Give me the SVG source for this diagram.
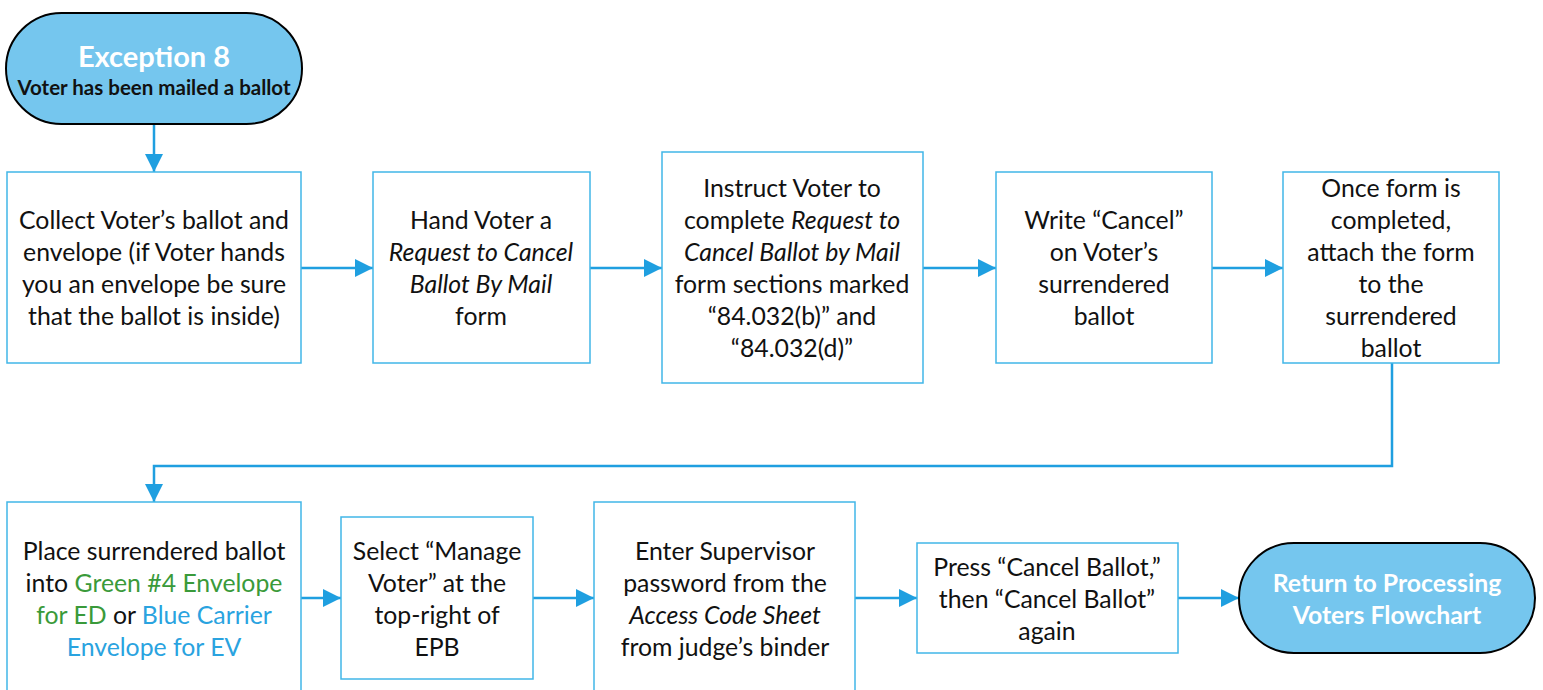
<svg xmlns="http://www.w3.org/2000/svg" width="1543" height="690" viewBox="0 0 1543 690">
<defs>
<marker id="arr" markerUnits="userSpaceOnUse" markerWidth="18" markerHeight="18" refX="18" refY="9" orient="auto">
<path d="M0,0 L18,9 L0,18 Z" fill="#1F9FE0"/>
</marker>
<style>
.box{fill:#fff;stroke:#41B6E8;stroke-width:1.5}
.term{fill:#75C6EE;stroke:#000;stroke-width:2}
.conn{fill:none;stroke:#1F9FE0;stroke-width:2.5}
text{font-family:Lato,"Open Sans","Liberation Sans",sans-serif;font-size:24.8px;fill:#111;text-anchor:middle;dominant-baseline:central}
.it{font-style:italic}
.tw{fill:#fff;font-weight:bold}
.green{fill:#3A9A3A}
.blue{fill:#2AA3DF}
</style>
</defs>
<rect width="1543" height="690" fill="#fff"/>

<g id="connectors">
<line class="conn" x1="154" y1="124" x2="154" y2="172" marker-end="url(#arr)"/>
<line class="conn" x1="301" y1="268" x2="373" y2="268" marker-end="url(#arr)"/>
<line class="conn" x1="590" y1="268" x2="662" y2="268" marker-end="url(#arr)"/>
<line class="conn" x1="923" y1="268" x2="996" y2="268" marker-end="url(#arr)"/>
<line class="conn" x1="1212" y1="268" x2="1283" y2="268" marker-end="url(#arr)"/>
<polyline class="conn" points="1392,363 1392,466 154,466 154,502" marker-end="url(#arr)"/>
<line class="conn" x1="301" y1="598" x2="341" y2="598" marker-end="url(#arr)"/>
<line class="conn" x1="533" y1="598" x2="594" y2="598" marker-end="url(#arr)"/>
<line class="conn" x1="855" y1="598" x2="917" y2="598" marker-end="url(#arr)"/>
<line class="conn" x1="1178" y1="598" x2="1239" y2="598" marker-end="url(#arr)"/>
</g>

<g id="start">
<rect class="term" x="6" y="13" width="296" height="111" rx="55.5"/>
<text x="154" y="55" class="tw" style="font-size:29px">Exception 8</text>
<text x="154" y="87" style="font-size:20.5px;font-weight:bold">Voter has been mailed a ballot</text>
</g>

<g id="collect">
<rect class="box" x="7" y="172" width="294" height="191"/>
<text x="154" y="219">Collect Voter’s ballot and</text>
<text x="154" y="251">envelope (if Voter hands</text>
<text x="154" y="283">you an envelope be sure</text>
<text x="154" y="315">that the ballot is inside)</text>
</g>

<g id="hand">
<rect class="box" x="373" y="172" width="217" height="191"/>
<text x="481" y="219">Hand Voter a</text>
<text x="481" y="251" class="it">Request to Cancel</text>
<text x="481" y="283" class="it">Ballot By Mail</text>
<text x="481" y="315">form</text>
</g>

<g id="instruct">
<rect class="box" x="662" y="152" width="261" height="231"/>
<text x="792" y="187">Instruct Voter to</text>
<text x="792" y="219">complete <tspan class="it">Request to</tspan></text>
<text x="792" y="251" class="it">Cancel Ballot by Mail</text>
<text x="792" y="283">form sections marked</text>
<text x="792" y="315">“84.032(b)” and</text>
<text x="792" y="347">“84.032(d)”</text>
</g>

<g id="write">
<rect class="box" x="996" y="172" width="216" height="191"/>
<text x="1104" y="219">Write “Cancel”</text>
<text x="1104" y="251">on Voter’s</text>
<text x="1104" y="283">surrendered</text>
<text x="1104" y="315">ballot</text>
</g>

<g id="attach">
<rect class="box" x="1283" y="172" width="216" height="191"/>
<text x="1391" y="187">Once form is</text>
<text x="1391" y="219">completed,</text>
<text x="1391" y="251">attach the form</text>
<text x="1391" y="283">to the</text>
<text x="1391" y="315">surrendered</text>
<text x="1391" y="347">ballot</text>
</g>

<g id="place">
<rect class="box" x="7" y="502" width="294" height="192"/>
<text x="154" y="550">Place surrendered ballot</text>
<text x="154" y="582">into <tspan class="green">Green #4 Envelope</tspan></text>
<text x="154" y="614"><tspan class="green">for ED</tspan> or <tspan class="blue">Blue Carrier</tspan></text>
<text x="154" y="646" class="blue">Envelope for EV</text>
</g>

<g id="select">
<rect class="box" x="341" y="517" width="192" height="162"/>
<text x="437" y="550">Select “Manage</text>
<text x="437" y="582">Voter” at the</text>
<text x="437" y="614">top-right of</text>
<text x="437" y="646">EPB</text>
</g>

<g id="enter">
<rect class="box" x="594" y="502" width="261" height="192"/>
<text x="725" y="550">Enter Supervisor</text>
<text x="725" y="582">password from the</text>
<text x="725" y="614" class="it">Access Code Sheet</text>
<text x="725" y="646">from judge’s binder</text>
</g>

<g id="press">
<rect class="box" x="917" y="543" width="261" height="110"/>
<text x="1047" y="566">Press “Cancel Ballot,”</text>
<text x="1047" y="598">then “Cancel Ballot”</text>
<text x="1047" y="630">again</text>
</g>

<g id="end">
<rect class="term" x="1239" y="543" width="296" height="110" rx="55"/>
<text x="1387" y="582" class="tw">Return to Processing</text>
<text x="1387" y="614" class="tw">Voters Flowchart</text>
</g>
</svg>
